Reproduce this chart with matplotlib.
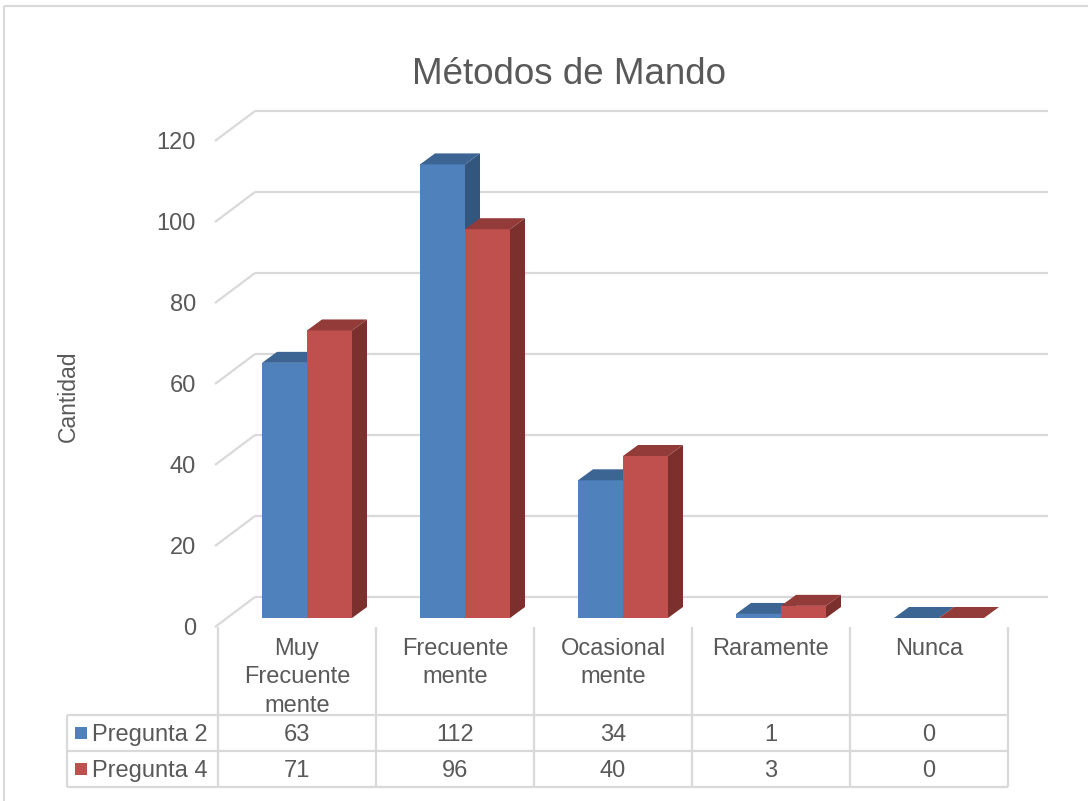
import matplotlib
matplotlib.use("Agg")
import matplotlib.pyplot as plt
from matplotlib.patches import Polygon, Rectangle
import numpy as np

plt.rcParams['font.family'] = ['Liberation Sans', 'DejaVu Sans']

# ---------------- data ----------------
title = "Métodos de Mando"
ylabel = "Cantidad"
categories = ["Muy\nFrecuente\nmente", "Frecuente\nmente", "Ocasional\nmente", "Raramente", "Nunca"]
series_names = ["Pregunta 2", "Pregunta 4"]
pregunta2 = [63, 112, 34, 1, 0]
pregunta4 = [71, 96, 40, 3, 0]
yticks = [0, 20, 40, 60, 80, 100, 120]

# ---------------- style ----------------
W, H = 1088, 801
TXT = "#595959"
GRID = "#d9d9d9"
front_cols = ["#4F81BD", "#C0504D"]
top_cols = ["#3D6594", "#923B39"]
side_cols = ["#33567F", "#7C302E"]

fig = plt.figure(figsize=(W / 100, H / 100), dpi=100)
fig.patch.set_facecolor("white")

# background axes in pixel coordinates for frame / table / titles
bg = fig.add_axes([0, 0, 1, 1])
bg.set_xlim(0, W)
bg.set_ylim(H, 0)
bg.axis("off")

# plot axes: x = category index, y = value
PX0, PXS = 296.5, 158.0     # pixel of category 0, pixels per category
PY0, PYS = 618.0, 4.05      # pixel of value 0 (bar plane), pixels per unit
ax = fig.add_axes([0, 0, 1, 1])
ax.set_xlim(-PX0 / PXS, (W - PX0) / PXS)
ax.set_ylim((PY0 - H) / PYS, PY0 / PYS)
ax.axis("off")
ax.patch.set_alpha(0)

def px2x(p):
    return (p - PX0) / PXS

# depth offsets (data units)
back_dx, back_dy = 28 / PXS, 21 / PYS
front_dx, front_dy = -12 / PXS, -9 / PYS
bar_dx, bar_dy = 15 / PXS, 11 / PYS

# back-wall gridlines + left diagonals
x_front_left = px2x(215)
x_back_left = x_front_left + 40 / PXS
x_back_right = px2x(1048)
for v in yticks:
    yb = v + back_dy
    yf = v + front_dy
    ax.plot([x_back_left, x_back_right], [yb, yb], color=GRID, lw=1.6, zorder=1,
            solid_capstyle="butt")
    ax.plot([x_front_left, x_back_left], [yf, yb], color=GRID, lw=1.6, zorder=1,
            solid_capstyle="butt")
    ax.text(px2x(196), yf - 0.4, str(v), ha="right", va="center", fontsize=17, color=TXT)

# 3D-looking bars
bw = 45 / PXS
shift = 10.5 / PXS
xc = np.arange(len(categories)) + shift
for s, vals in enumerate([pregunta2, pregunta4]):
    xs = xc + (s - 0.5) * bw
    ax.bar(xs, vals, width=bw, color=front_cols[s], zorder=3 + s, linewidth=0)
    for x, v in zip(xs, vals):
        x0, x1 = x - bw / 2, x + bw / 2
        top = Polygon([(x0, v), (x1, v), (x1 + bar_dx, v + bar_dy), (x0 + bar_dx, v + bar_dy)],
                      closed=True, facecolor=top_cols[s], edgecolor="none", zorder=3 + s)
        side = Polygon([(x1, 0), (x1, v), (x1 + bar_dx, v + bar_dy), (x1 + bar_dx, bar_dy)],
                       closed=True, facecolor=side_cols[s], edgecolor="none", zorder=3 + s)
        ax.add_patch(side)
        ax.add_patch(top)

# title and axis label
bg.text(569, 74, title, ha="center", va="center", fontsize=26.5, color=TXT)
bg.text(68, 396, ylabel, ha="center", va="center", rotation=90, fontsize=16.5, color=TXT)

# outer frame
bg.add_patch(Rectangle((4, 6), W + 20, H + 20, fill=False, edgecolor=GRID, lw=1.5))

# data table
col_edges = [218 + 158 * i for i in range(len(categories) + 1)]
row_top, row1, row2, row3 = 627, 715, 751, 787
leg_left = 67
tl = dict(color=GRID, lw=1.6, solid_capstyle="butt")
for xe in col_edges:
    bg.plot([xe, xe], [row_top, row3], **tl)
bg.plot([leg_left, leg_left], [row1, row3], **tl)
for ye in (row1, row2, row3):
    bg.plot([leg_left, col_edges[-1]], [ye, ye], **tl)

for i, cat in enumerate(categories):
    cx = (col_edges[i] + col_edges[i + 1]) / 2
    bg.text(cx, 638, cat, ha="center", va="top", fontsize=17, color=TXT, linespacing=1.38)
    bg.text(cx, (row1 + row2) / 2 + 2, str(pregunta2[i]), ha="center", va="center",
            fontsize=17, color=TXT)
    bg.text(cx, (row2 + row3) / 2 + 2, str(pregunta4[i]), ha="center", va="center",
            fontsize=17, color=TXT)

for s, (name, yc) in enumerate(zip(series_names, [(row1 + row2) / 2, (row2 + row3) / 2])):
    bg.add_patch(Rectangle((75, yc - 6), 12, 12, facecolor=front_cols[s], edgecolor="none"))
    bg.text(92, yc + 2, name, ha="left", va="center", fontsize=17, color=TXT)

fig.savefig("out.png", dpi=100, facecolor="white")
